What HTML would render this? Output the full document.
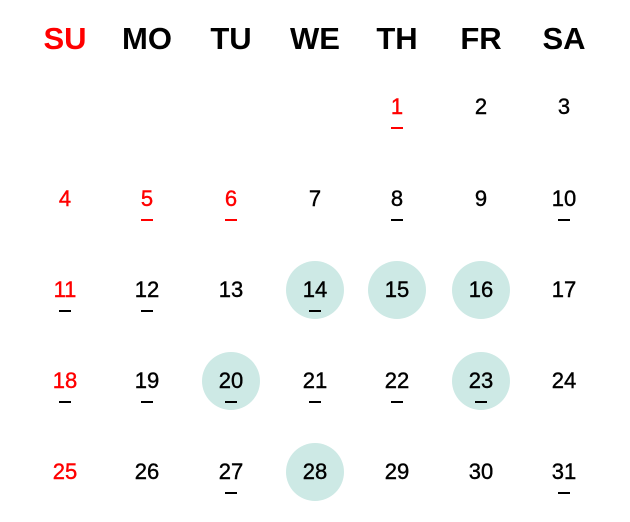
<!DOCTYPE html>
<html><head><style>
body{margin:0;width:630px;height:522px;background:#fff;overflow:hidden;font-family:"Liberation Sans",sans-serif;}
.h,.n{position:absolute;transform:translate(-50%,-50%);white-space:nowrap;}
.h{font-weight:bold;font-size:31px;}
.n{font-size:22px;-webkit-text-stroke:0.4px currentColor;}
.c{position:absolute;width:58px;height:58px;border-radius:50%;background:#cde9e5;transform:translate(-50%,-50%);}
.d{position:absolute;width:12px;height:2px;background:#000;transform:translateX(-50%);}
.r{color:#f00}
</style></head><body>
<div id="g"></div>
<script>
var xs=[65,147,231,315,397,481,564],ys=[107,199,290,381,472];
var hd=["SU","MO","TU","WE","TH","FR","SA"],h="";
hd.forEach(function(t,i){h+='<div class="h'+(i==0?' r':'')+'" style="left:'+xs[i]+'px;top:39px">'+t+'</div>';});
var circ=[14,15,16,20,23,28],und=[1,5,6,8,10,11,12,14,18,19,20,21,22,23,27,31],red=[1,4,5,6,11,18,25],redU=[1,5,6];
for(var d=1;d<=31;d++){var p=d+3,c=p%7,r=Math.floor(p/7),x=xs[c],y=ys[r];
if(circ.indexOf(d)>=0)h+='<div class="c" style="left:'+x+'px;top:'+y+'px"></div>';
var rd=red.indexOf(d)>=0;
h+='<div class="n'+(rd?' r':'')+'" style="left:'+x+'px;top:'+y+'px">'+d+'</div>';
if(und.indexOf(d)>=0)h+='<div class="d" style="left:'+x+'px;top:'+(y+20)+'px;background:'+(redU.indexOf(d)>=0?'#f00':'#000')+'"></div>';}
document.getElementById("g").innerHTML=h;
</script>
</body></html>
